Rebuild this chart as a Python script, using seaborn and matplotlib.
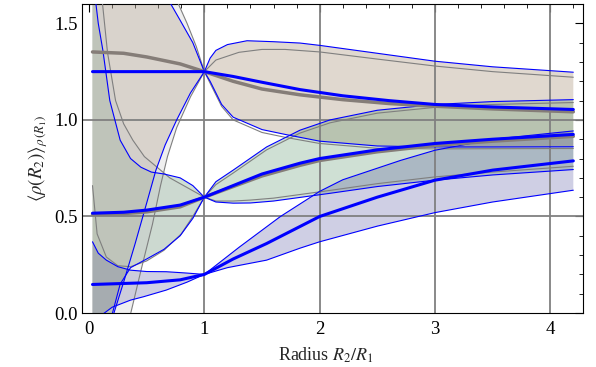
import matplotlib
matplotlib.use("Agg")
import matplotlib.pyplot as plt
import seaborn as sns
from matplotlib.ticker import MultipleLocator

# ── data ────────────────────────────────────────────────────────────────────
# group A: rho(R1) = 1.25 (brown band)
a_mid_x  = [0.03, 0.5, 1.0, 1.25, 1.5, 1.83, 2.2, 2.6, 3.0, 3.5, 4.2]
a_mid_y  = [1.25, 1.25, 1.25, 1.225, 1.195, 1.157, 1.125, 1.10, 1.08, 1.067, 1.054]
a_gmid_x = [0.03, 0.3, 0.5, 0.79, 1.0, 1.25, 1.5, 1.83, 2.2, 2.6, 3.0, 3.5, 4.2]
a_gmid_y = [1.352, 1.345, 1.326, 1.29, 1.25, 1.20, 1.16, 1.13, 1.105, 1.085, 1.071, 1.057, 1.042]
a_up_x   = [1.0, 1.05, 1.1, 1.2, 1.37, 1.6, 1.83, 2.0, 2.5, 3.0, 3.5, 4.2]
a_up_y   = [1.25, 1.32, 1.36, 1.39, 1.41, 1.405, 1.398, 1.386, 1.345, 1.304, 1.275, 1.247]
a_gup_x  = [1.0, 1.1, 1.3, 1.5, 1.7, 2.0, 2.5, 3.0, 3.5, 4.2]
a_gup_y  = [1.25, 1.31, 1.35, 1.365, 1.365, 1.352, 1.315, 1.279, 1.25, 1.221]
a_lo_x   = [1.0, 1.05, 1.15, 1.25, 1.5, 1.7, 2.0, 2.5, 3.0, 3.5, 4.2]
a_lo_y   = [1.25, 1.20, 1.08, 1.014, 0.95, 0.925, 0.89, 0.865, 0.86, 0.86, 0.861]
a_glo_y  = [1.25, 1.19, 1.07, 1.00, 0.935, 0.91, 0.878, 0.853, 0.85, 0.851, 0.852]
# left of R1 (bounds run off the frame)
a_lup_x  = [0.655, 0.69, 0.79, 0.9, 1.0]
a_lup_y  = [1.70, 1.62, 1.516, 1.40, 1.25]
a_glup_x = [0.72, 0.76, 0.85, 0.93, 1.0]
a_glup_y = [1.70, 1.62, 1.50, 1.38, 1.25]
a_llo_x  = [0.20, 0.30, 0.40, 0.50, 0.58, 0.66, 0.76, 0.88, 1.0]
a_llo_y  = [-0.03, 0.16, 0.36, 0.57, 0.74, 0.87, 1.0, 1.14, 1.25]
a_gllo_x = [0.35, 0.45, 0.55, 0.62, 0.68, 0.76, 0.88, 1.0]
a_gllo_y = [-0.03, 0.22, 0.46, 0.66, 0.81, 0.96, 1.12, 1.25]

# group B: rho(R1) = 0.6 (green band)
b_mid_x  = [0.03, 0.3, 0.5, 0.79, 1.0, 1.25, 1.5, 1.83, 2.0, 2.5, 3.0, 3.5, 4.2]
b_mid_y  = [0.517, 0.522, 0.533, 0.559, 0.60, 0.66, 0.72, 0.776, 0.80, 0.845, 0.878, 0.90, 0.925]
b_gmid_y = [0.512, 0.515, 0.524, 0.55, 0.60, 0.655, 0.71, 0.765, 0.79, 0.835, 0.868, 0.89, 0.915]
b_up_x   = [1.0, 1.1, 1.25, 1.54, 1.83, 2.09, 2.5, 3.0, 3.5, 4.2]
b_up_y   = [0.60, 0.68, 0.74, 0.86, 0.947, 1.0, 1.05, 1.08, 1.095, 1.105]
b_gup_y  = [0.60, 0.665, 0.725, 0.845, 0.932, 0.985, 1.035, 1.065, 1.08, 1.09]
b_lo_x   = [1.0, 1.1, 1.25, 1.4, 1.6, 2.09, 2.5, 3.0, 3.5, 4.2]
b_lo_y   = [0.60, 0.575, 0.569, 0.57, 0.58, 0.62, 0.655, 0.688, 0.715, 0.743]
b_glo_y  = [0.60, 0.58, 0.58, 0.585, 0.595, 0.635, 0.67, 0.705, 0.73, 0.76]
b_lup_x  = [0.04, 0.08, 0.12, 0.18, 0.27, 0.36, 0.45, 0.54, 0.65, 0.79, 0.9, 1.0]
b_lup_y  = [1.70, 1.50, 1.36, 1.10, 0.895, 0.80, 0.755, 0.73, 0.72, 0.70, 0.66, 0.60]
b_glup_x = [0.10, 0.16, 0.23, 0.30, 0.38, 0.48, 0.59, 0.70, 0.85, 1.0]
b_glup_y = [1.70, 1.35, 1.10, 0.98, 0.895, 0.81, 0.755, 0.70, 0.65, 0.60]
b_llo_x  = [0.19, 0.27, 0.36, 0.5, 0.65, 0.79, 0.9, 1.0]
b_llo_y  = [-0.03, 0.15, 0.235, 0.28, 0.33, 0.40, 0.49, 0.60]
b_gllo_x = [0.03, 0.07, 0.15, 0.25, 0.36, 0.5, 0.65, 0.8, 0.9, 1.0]
b_gllo_y = [0.66, 0.41, 0.29, 0.245, 0.24, 0.27, 0.325, 0.41, 0.50, 0.60]

# group C: rho(R1) = 0.2 (purple band)
c_mid_x  = [0.03, 0.5, 0.79, 1.0, 1.25, 1.54, 2.0, 2.5, 3.0, 3.5, 4.2]
c_mid_y  = [0.148, 0.157, 0.172, 0.20, 0.28, 0.36, 0.50, 0.60, 0.688, 0.74, 0.788]
c_up_x   = [1.0, 1.3, 1.66, 2.0, 2.2, 2.7, 3.0, 3.5, 4.2]
c_up_y   = [0.20, 0.34, 0.50, 0.63, 0.69, 0.79, 0.843, 0.90, 0.943]
c_lo_x   = [1.0, 1.2, 1.54, 1.83, 2.0, 2.5, 3.0, 3.5, 4.2]
c_lo_y   = [0.20, 0.235, 0.274, 0.336, 0.369, 0.45, 0.52, 0.575, 0.636]
c_lup_x  = [0.03, 0.08, 0.15, 0.25, 0.36, 0.5, 0.67, 0.85, 1.0]
c_lup_y  = [0.369, 0.31, 0.274, 0.24, 0.222, 0.215, 0.214, 0.207, 0.20]
c_llo_x  = [0.11, 0.2, 0.36, 0.47, 0.67, 0.85, 1.0]
c_llo_y  = [-0.01, 0.03, 0.067, 0.084, 0.119, 0.16, 0.20]

X0, TOP, BOT = 0.03, 1.7, -0.03      # left edge of the curves, off-frame fill limits

BLUE = "#0000ff"
GREY = "#7f7f7f"
GMID = "#857d78"
FILL_A = (0.53, 0.40, 0.25, 0.25)
FILL_B = (0.26, 0.53, 0.33, 0.25)
FILL_C = (0.26, 0.26, 0.58, 0.25)
FILL_G = (0.78, 0.78, 0.78, 0.28)

sns.set_theme(style="white")
plt.rcParams["font.family"] = ["Liberation Serif", "DejaVu Serif"]
plt.rcParams["mathtext.fontset"] = "stix"

fig = plt.figure(figsize=(5.96, 3.67), dpi=100)
ax = fig.add_axes([0.1376, 0.147, 0.8406, 0.842])


def poly(xs, ys, color, z=1):
    ax.fill(xs, ys, color=color, lw=0, zorder=z)


def band(xu, yu, xl, yl, color, pre=(), post=(), z=1):
    px = [p[0] for p in pre] + list(xu) + list(xl)[::-1] + [p[0] for p in post]
    py = [p[1] for p in pre] + list(yu) + list(yl)[::-1] + [p[1] for p in post]
    poly(px, py, color, z)


def line(x, y, color, lw, z=3):
    sns.lineplot(x=x, y=y, ax=ax, color=color, lw=lw, sort=False,
                 estimator=None, zorder=z)


# coloured bands right of R1
band(a_up_x, a_up_y, a_lo_x, a_lo_y, FILL_A)
band(b_up_x, b_up_y, b_lo_x, b_lo_y, FILL_B)
band(c_up_x, c_up_y, c_lo_x, c_lo_y, FILL_C)
# coloured bands left of R1
band(a_lup_x, a_lup_y, a_llo_x, a_llo_y, FILL_A, pre=[(X0, TOP)], post=[(X0, BOT)])
band(b_lup_x, b_lup_y, b_llo_x, b_llo_y, FILL_B, pre=[(X0, TOP)], post=[(X0, BOT)])
band(c_lup_x, c_lup_y, c_llo_x, c_llo_y, FILL_C, post=[(X0, BOT)])
# grey comparison bands left of R1
band(a_glup_x, a_glup_y, a_gllo_x, a_gllo_y, FILL_G, pre=[(X0, TOP)], post=[(X0, BOT)], z=1.5)
band(b_glup_x, b_glup_y, b_gllo_x, b_gllo_y, FILL_G, pre=[(X0, TOP)], z=1.5)

# thin grey bounds
for xs, ys in [(a_gup_x, a_gup_y), (a_lo_x, a_glo_y), (b_up_x, b_gup_y), (b_lo_x, b_glo_y),
               (a_glup_x, a_glup_y), (a_gllo_x, a_gllo_y), (b_glup_x, b_glup_y),
               (b_gllo_x, b_gllo_y)]:
    line(xs, ys, GREY, 0.8)
# thin blue bounds
for xs, ys in [(a_up_x, a_up_y), (a_lo_x, a_lo_y), (b_up_x, b_up_y), (b_lo_x, b_lo_y),
               (c_up_x, c_up_y), (c_lo_x, c_lo_y), (a_lup_x, a_lup_y), (a_llo_x, a_llo_y),
               (b_lup_x, b_lup_y), (b_llo_x, b_llo_y), (c_lup_x, c_lup_y), (c_llo_x, c_llo_y)]:
    line(xs, ys, BLUE, 0.8)

# means
line(a_gmid_x, a_gmid_y, GMID, 2.5, 4)
line(b_mid_x, b_gmid_y, GMID, 2.5, 4)
line(a_mid_x, a_mid_y, BLUE, 2.2, 5)
line(b_mid_x, b_mid_y, BLUE, 2.2, 5)
line(c_mid_x, c_mid_y, BLUE, 2.2, 5)

# grid
for gx in [1, 2, 3, 4]:
    ax.axvline(gx, color="#808080", lw=1.3, zorder=2)
for gy in [0.5, 1.0]:
    ax.axhline(gy, color="#808080", lw=1.3, zorder=2)

ax.set_xlim(-0.061, 4.284)
ax.set_ylim(0, 1.6)
ax.xaxis.set_major_locator(MultipleLocator(1))
ax.xaxis.set_minor_locator(MultipleLocator(0.2))
ax.yaxis.set_major_locator(MultipleLocator(0.5))
ax.yaxis.set_minor_locator(MultipleLocator(0.1))
ax.tick_params(which="both", direction="in", top=True, right=True,
               labelsize=13.5, colors="black")
ax.tick_params(axis="x", pad=6)
ax.tick_params(axis="y", pad=3)
ax.tick_params(which="major", length=5.5, width=0.8)
ax.tick_params(which="minor", length=3, width=0.6)
ax.set_xticks([0, 1, 2, 3, 4])
ax.set_xticklabels(["0", "1", "2", "3", "4"])
ax.set_yticks([0, 0.5, 1.0, 1.5])
ax.set_yticklabels(["0.0", "0.5", "1.0", "1.5"])
for s in ax.spines.values():
    s.set_color("black")
    s.set_linewidth(0.8)

ax.set_xlabel(r"Radius $R_2/R_1$", fontsize=13, labelpad=2)
ax.xaxis.set_label_coords(0.487, -0.105)
ax.set_ylabel(r"$\langle\rho(R_2)\rangle_{\rho\,(R_1)}$", fontsize=13.5, labelpad=3)

fig.savefig("out.png", dpi=100)
